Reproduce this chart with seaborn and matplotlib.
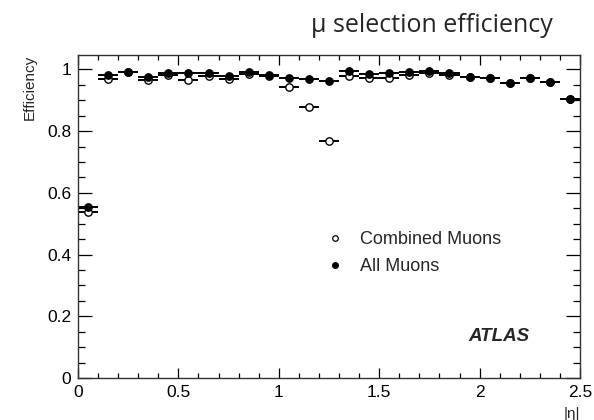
import numpy as np
import pandas as pd
import matplotlib
matplotlib.use("Agg")
import matplotlib.pyplot as plt
import seaborn as sns
from matplotlib.ticker import MultipleLocator
from matplotlib.lines import Line2D

# ---- data ----
eta_centers = [0.05, 0.15, 0.25, 0.35, 0.45, 0.55, 0.65, 0.75, 0.85, 0.95,
               1.05, 1.15, 1.25, 1.35, 1.45, 1.55, 1.65, 1.75, 1.85, 1.95,
               2.05, 2.15, 2.25, 2.35, 2.45]
bin_half_width = 0.05
combined_eff = [0.537, 0.969, 0.991, 0.967, 0.982, 0.965, 0.978, 0.968, 0.986, 0.978,
                0.942, 0.877, 0.768, 0.978, 0.971, 0.972, 0.982, 0.988, 0.982, 0.977,
                0.973, 0.957, 0.972, 0.959, 0.904]
all_eff = [0.555, 0.982, 0.992, 0.975, 0.990, 0.990, 0.990, 0.978, 0.992, 0.981,
           0.972, 0.969, 0.962, 0.996, 0.985, 0.988, 0.991, 0.995, 0.989, 0.977,
           0.973, 0.957, 0.972, 0.959, 0.904]
x_ticks = [0, 0.5, 1, 1.5, 2, 2.5]
x_tick_labels = ["0", "0.5", "1", "1.5", "2", "2.5"]
y_ticks = [0, 0.2, 0.4, 0.6, 0.8, 1.0]
y_tick_labels = ["0", "0.2", "0.4", "0.6", "0.8", "1"]

df = pd.DataFrame({"eta": eta_centers, "Combined Muons": combined_eff, "All Muons": all_eff})

sns.set_style("ticks")
plt.rcParams["font.family"] = ["Liberation Sans", "DejaVu Sans"]

fig = plt.figure(figsize=(5.94, 4.20), dpi=100)
ax = fig.add_axes([78 / 594, 42 / 420, 502 / 594, 323 / 420])

# horizontal error bars
ax.errorbar(df["eta"], df["Combined Muons"], xerr=bin_half_width, fmt="none",
            ecolor="black", elinewidth=1.4, capsize=0, zorder=2)
ax.errorbar(df["eta"], df["All Muons"], xerr=bin_half_width, fmt="none",
            ecolor="black", elinewidth=1.4, capsize=0, zorder=2)

sns.scatterplot(data=df, x="eta", y="Combined Muons", ax=ax, marker="o", s=28,
                facecolor="white", edgecolor="black", linewidth=1.0, zorder=3)
sns.scatterplot(data=df, x="eta", y="All Muons", ax=ax, marker="o", s=28,
                color="black", edgecolor="black", linewidth=1.0, zorder=4)

ax.set_xlim(0, 2.5)
ax.set_ylim(0, 1.047)
ax.set_xticks(x_ticks)
ax.set_xticklabels(x_tick_labels)
ax.set_yticks(y_ticks)
ax.set_yticklabels(y_tick_labels)
ax.xaxis.set_minor_locator(MultipleLocator(0.1))
ax.yaxis.set_minor_locator(MultipleLocator(0.05))

ax.tick_params(axis="both", which="both", direction="in", top=True, right=True,
               labelsize=12.5, colors="black", width=0.9)
ax.tick_params(axis="x", which="major", length=7, pad=5)
ax.tick_params(axis="x", which="minor", length=3.5)
ax.tick_params(axis="y", which="major", length=10, pad=5)
ax.tick_params(axis="y", which="minor", length=5)
for sp in ax.spines.values():
    sp.set_visible(True)
    sp.set_linewidth(1.0)
    sp.set_color("#333333")

ax.set_xlabel("|η|", loc="right", fontsize=11, labelpad=5)
ax.set_ylabel("Efficiency", loc="top", fontsize=11, labelpad=7)

handles = [
    Line2D([], [], marker="o", linestyle="none", markersize=4, markerfacecolor="white",
           markeredgecolor="black", markeredgewidth=0.9),
    Line2D([], [], marker="o", linestyle="none", markersize=4, markerfacecolor="black",
           markeredgecolor="black"),
]
ax.legend(handles, ["Combined Muons", "All Muons"], loc="upper left",
          bbox_to_anchor=(0.458, 0.505), frameon=False, fontsize=13,
          handletextpad=0.8, labelspacing=0.55, handlelength=1.2)

ax.text(0.838, 0.13, "ATLAS", transform=ax.transAxes, fontsize=13.5,
        fontweight="bold", fontstyle="italic", ha="center", va="center")

fig.text(553 / 594, 1 - 32 / 420, "μ selection efficiency", fontsize=18,
         family=["Open Sans", "DejaVu Sans"], ha="right", va="baseline")

fig.savefig("out.png", dpi=100)
